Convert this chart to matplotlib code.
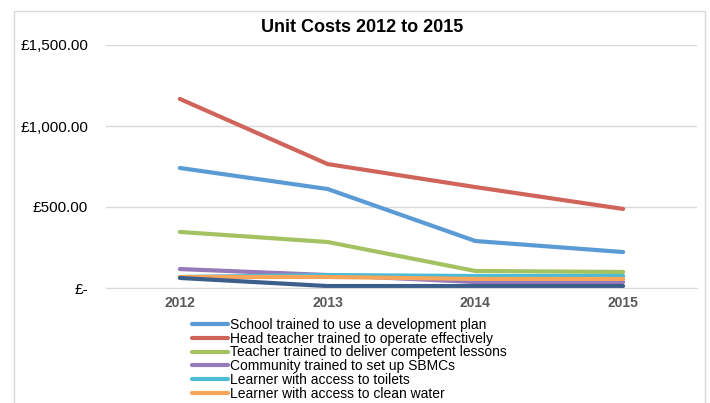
import matplotlib
matplotlib.use('Agg')
import matplotlib.pyplot as plt
from matplotlib.patches import Rectangle
from matplotlib.ticker import FuncFormatter

plt.rcParams['font.family'] = ['Liberation Sans', 'DejaVu Sans']

years = ['2012', '2013', '2014', '2015']

school_plan = [741, 611, 290, 222]
head_teacher = [1167, 765, 623, 488]
teacher_lessons = [346, 284, 105, 99]
community_sbmc = [117, 80, 37, 37]
learner_toilets = [68, 80, 74, 74]
learner_water = [68, 68, 56, 56]
classrooms = [62, 12, 12, 12]

# the last series has no legend row on the page
series = [
    ('School trained to use a development plan', school_plan, '#5B9BD5'),
    ('Head teacher trained to operate effectively', head_teacher, '#D0645A'),
    ('Teacher trained to deliver competent lessons', teacher_lessons, '#A5C262'),
    ('Community trained to set up SBMCs', community_sbmc, '#9579B8'),
    ('Learner with access to toilets', learner_toilets, '#4BBCD6'),
    ('Learner with access to clean water', learner_water, '#F7A55A'),
    ('_classrooms', classrooms, '#3B5F8A'),
]

fig = plt.figure(figsize=(7.10, 4.03), dpi=100)
fig.patch.set_facecolor('white')

# chart frame, runs off the bottom edge
fig.patches.append(Rectangle((14 / 710, -0.2), 691 / 710, 1.2 - 11 / 403,
                             transform=fig.transFigure, fill=False,
                             edgecolor='#D9D9D9', lw=1.0))

ax = fig.add_axes([106 / 710, 1 - 288 / 403, 591 / 710, 243 / 403])
x = range(len(years))
for label, vals, color in series:
    ax.plot(x, vals, color=color, lw=3.0, label=label, solid_capstyle='round')

ax.set_xlim(-0.5, 3.5)
ax.set_ylim(0, 1500)
ax.set_yticks([0, 500, 1000, 1500])
ax.yaxis.set_major_formatter(FuncFormatter(
    lambda v, p: '£-' if v == 0 else f'£{v:,.2f}'))
ax.set_xticks(list(x))
ax.set_xticklabels(years, fontsize=10, fontweight='bold', color='#595959')
ax.tick_params(axis='y', length=0, pad=13, labelsize=11, labelcolor='#000000')
ax.tick_params(axis='x', length=0, pad=6)
ax.grid(axis='y', color='#D9D9D9', lw=1.0)
ax.set_axisbelow(True)
for s in ['top', 'right', 'left']:
    ax.spines[s].set_visible(False)
ax.spines['bottom'].set_color('#D9D9D9')

fig.text(362 / 710, 1 - 27 / 403, 'Unit Costs 2012 to 2015', ha='center',
         va='center', fontsize=13, fontweight='bold')

fig.legend(loc='upper left', bbox_to_anchor=(192 / 710, 1 - 318 / 403),
           frameon=False, fontsize=10, handlelength=2.6, handletextpad=0.15,
           labelspacing=-0.02, borderpad=0, borderaxespad=0)

fig.savefig('out.png', dpi=100)
